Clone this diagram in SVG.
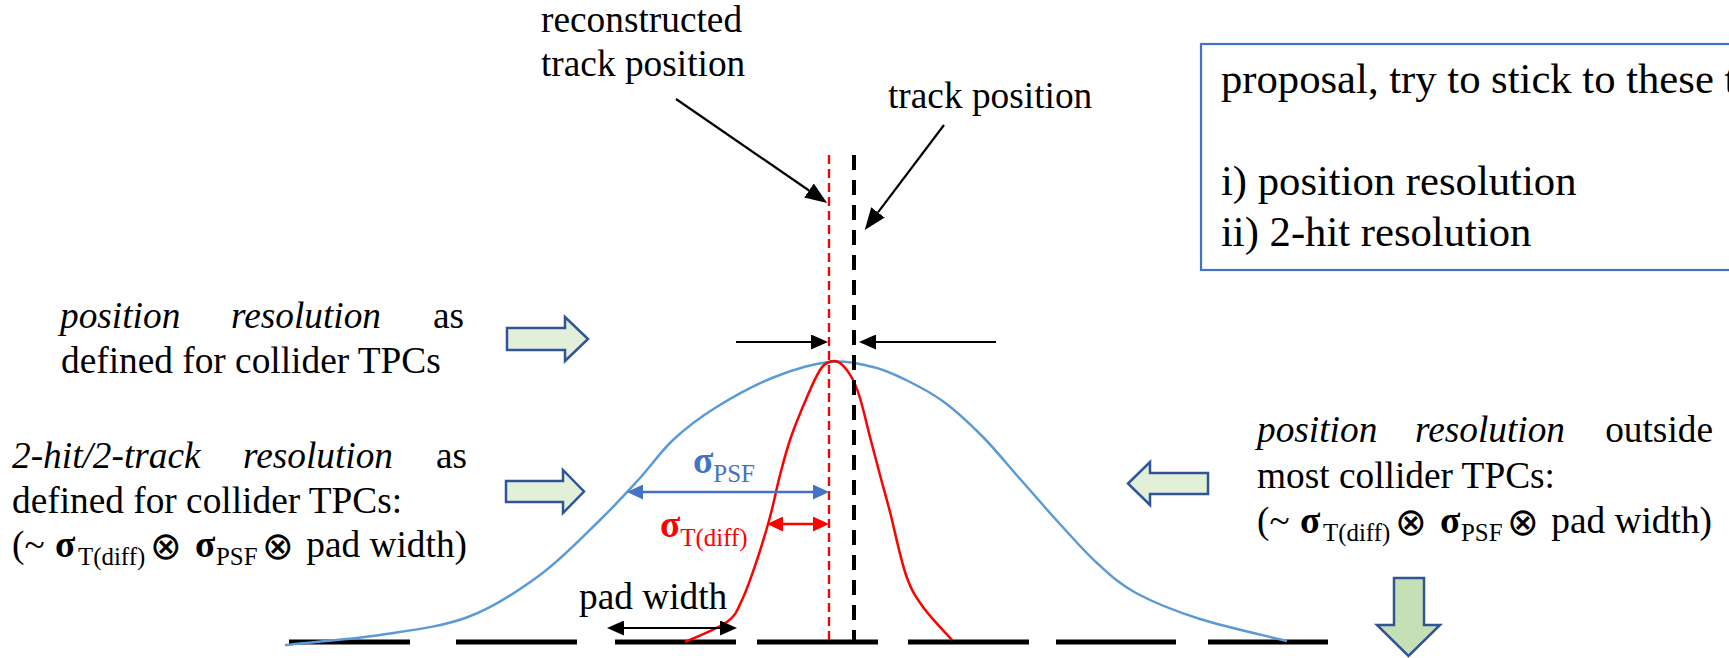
<svg xmlns="http://www.w3.org/2000/svg" width="1729" height="658" viewBox="0 0 1729 658">
<style>
.t{font-family:"Liberation Serif","Times New Roman",serif;font-size:37.33px;fill:#000}
.i{font-style:italic}
.bx{font-size:42.67px}
.sub{font-size:24.9px;font-weight:normal}
.sg{font-weight:bold}
.ot{font-family:"DejaVu Sans",sans-serif;font-size:38px}
.blk{fill:#E2F0D9;stroke:#2F5597;stroke-width:2.5;stroke-linejoin:miter}
.blkd{fill:#C5E0B4;stroke:#2F5597;stroke-width:2.5}
.ln{stroke:#000;stroke-width:2.2;fill:none}
.pad{stroke:#000;stroke-width:5}
</style>
<defs>
<marker id="hb" markerUnits="userSpaceOnUse" markerWidth="17" markerHeight="15" viewBox="0 0 17 15" refX="0" refY="7.5" orient="auto-start-reverse"><path d="M0,0 L17,7.5 L0,15 Z" fill="#000"/></marker>
<marker id="hbl" markerUnits="userSpaceOnUse" markerWidth="22" markerHeight="17" viewBox="0 0 22 17" refX="0" refY="8.5" orient="auto-start-reverse"><path d="M0,0 L22,8.5 L0,17 Z" fill="#000"/></marker>
<marker id="hblue" markerUnits="userSpaceOnUse" markerWidth="16" markerHeight="15" viewBox="0 0 16 15" refX="0" refY="7.5" orient="auto-start-reverse"><path d="M0,0 L16,7.5 L0,15 Z" fill="#4472C4"/></marker>
<marker id="hred" markerUnits="userSpaceOnUse" markerWidth="16" markerHeight="15" viewBox="0 0 16 15" refX="0" refY="7.5" orient="auto-start-reverse"><path d="M0,0 L16,7.5 L0,15 Z" fill="#FF0000"/></marker>
</defs>
<rect width="1729" height="658" fill="#fff"/>

<g id="pads">
<line class="pad" x1="289" y1="642" x2="410" y2="642"/>
<line class="pad" x1="456" y1="642" x2="577" y2="642"/>
<line class="pad" x1="615" y1="642" x2="736" y2="642"/>
<line class="pad" x1="757" y1="642" x2="878" y2="642"/>
<line class="pad" x1="908" y1="642" x2="1029" y2="642"/>
<line class="pad" x1="1056" y1="642" x2="1176" y2="642"/>
<line class="pad" x1="1208" y1="642" x2="1328" y2="642"/>
</g>

<g id="curve-psf">
<path fill="none" stroke="#5B9BD5" stroke-width="2.5" d="M285,645 C301,643 349.5,639.7 380,635 C410.5,630.3 441.3,627 468,617 C494.7,607 518,591.2 540,575 C562,558.8 583.3,536.2 600,520 C616.7,503.8 627.8,491.3 640,478 C652.2,464.7 660.5,451.7 673,440 C685.5,428.3 698.5,418.3 715,408 C731.5,397.7 753,385.7 772,378 C791,370.3 812.2,363.8 829,362 C845.8,360.2 860.2,364 873,367 C885.8,370 894.2,374.2 906,380 C917.8,385.8 931.2,392.5 944,402 C956.8,411.5 970.2,424 983,437 C995.8,450 1008.3,465.7 1021,480 C1033.7,494.3 1046.3,509.2 1059,523 C1071.7,536.8 1084.2,551.3 1097,563 C1109.8,574.7 1118.8,583.7 1136,593 C1153.2,602.3 1174.8,611 1200,619 C1225.2,627 1272.5,637.3 1287,641"/>
</g>

<g id="curve-diff">
<path fill="none" stroke="#FF0000" stroke-width="2.5" d="M685,642 C692,638.7 717.5,629 727,622 C736.5,615 737.2,609.8 742,600 C746.8,590.2 751.3,576.8 756,563 C760.7,549.2 766,531.7 770,517 C774,502.3 776.5,488.3 780,475 C783.5,461.7 786.5,450 791,437 C795.5,424 802.2,408.2 807,397 C811.8,385.8 816.3,375.8 820,370 C823.7,364.2 825.7,363.2 829,362 C832.3,360.8 836.2,360.3 840,363 C843.8,365.7 848.7,372.2 852,378 C855.3,383.8 857,388.2 860,398 C863,407.8 866.7,424.2 870,437 C873.3,449.8 876.7,462.5 880,475 C883.3,487.5 885.7,495.3 890,512 C894.3,528.7 900.5,559.2 906,575 C911.5,590.8 915.3,596.2 923,607 C930.7,617.8 947.2,634.5 952,640"/>
</g>

<g id="dashed-lines">
<line x1="829" y1="155" x2="829" y2="642" stroke="#FF0000" stroke-width="2.4" stroke-dasharray="9 5"/>
<line x1="854" y1="155" x2="854" y2="642" stroke="#000" stroke-width="4" stroke-dasharray="15 10"/>
</g>

<g id="label-reconstructed">
<text class="t" x="541" y="32">reconstructed</text>
<text class="t" x="541" y="76">track position</text>
</g>
<g id="label-track">
<text class="t" x="888" y="108">track position</text>
</g>

<g id="box-proposal">
<rect x="1201" y="44" width="560" height="226" fill="none" stroke="#4472C4" stroke-width="2.2"/>
<text class="t bx" x="1221" y="93">proposal, try to stick to these t</text>
<text class="t bx" x="1221" y="195">i) position resolution</text>
<text class="t bx" x="1221" y="246">ii) 2-hit resolution</text>
</g>

<g id="text-posres">
<text class="t i" x="60" y="328">position</text>
<text class="t i" x="231" y="328">resolution</text>
<text class="t" x="464" y="328" text-anchor="end">as</text>
<text class="t" x="61" y="373">defined for collider TPCs</text>
</g>

<g id="text-2hit">
<text class="t i" x="12" y="468">2-hit/2-track</text>
<text class="t i" x="243" y="468">resolution</text>
<text class="t" x="467" y="468" text-anchor="end">as</text>
<text class="t" x="12" y="513">defined for collider TPCs:</text>
<text class="t" y="557"><tspan x="12">(~</tspan><tspan class="sg" x="55">σ</tspan><tspan class="sub" x="78" dy="8">T(diff)</tspan><tspan class="ot" x="150" dy="-6">⊗</tspan><tspan class="sg" x="195" dy="-2">σ</tspan><tspan class="sub" x="216" dy="8">PSF</tspan><tspan class="ot" x="262" dy="-6">⊗</tspan><tspan x="467" dy="-2" text-anchor="end">pad width)</tspan></text>
</g>

<g id="text-outside">
<text class="t i" x="1257" y="442">position</text>
<text class="t i" x="1415" y="442">resolution</text>
<text class="t" x="1713" y="442" text-anchor="end">outside</text>
<text class="t" x="1257" y="488">most collider TPCs:</text>
<text class="t" y="533"><tspan x="1257">(~</tspan><tspan class="sg" x="1300">σ</tspan><tspan class="sub" x="1323" dy="8">T(diff)</tspan><tspan class="ot" x="1395" dy="-6">⊗</tspan><tspan class="sg" x="1440" dy="-2">σ</tspan><tspan class="sub" x="1461" dy="8">PSF</tspan><tspan class="ot" x="1507" dy="-6">⊗</tspan><tspan x="1712" dy="-2" text-anchor="end">pad width)</tspan></text>
</g>

<g id="label-sigma-psf">
<text class="t sg" x="693" y="473" style="fill:#4472C4">σ<tspan class="sub" dy="9">PSF</tspan></text>
</g>
<g id="label-sigma-diff">
<text class="t sg" x="660" y="537" style="fill:#FF0000">σ<tspan class="sub" dy="9">T(diff)</tspan></text>
</g>
<g id="label-padwidth">
<text class="t" x="579" y="609">pad width</text>
</g>

<g id="block-arrows">
<polygon class="blk" points="507,328 565,328 565,317 588,339 565,361 565,350 507,350"/>
<polygon class="blk" points="506,481 563,481 563,470 584,491.5 563,513 563,502 506,502"/>
<polygon class="blk" points="1208,473 1150,473 1150,462 1128,483.5 1150,505 1150,494 1208,494"/>
<polygon class="blkd" points="1394,578 1424,578 1424,625 1440,625 1408.5,656 1377,625 1394,625"/>
</g>

<g id="connectors">
<line class="ln" x1="676" y1="99" x2="809" y2="190.5" marker-end="url(#hbl)"/>
<line class="ln" x1="944" y1="125" x2="878" y2="212.4" marker-end="url(#hbl)"/>
<line class="ln" x1="736" y1="342" x2="811" y2="342" marker-end="url(#hb)"/>
<line class="ln" x1="996" y1="342" x2="876" y2="342" marker-end="url(#hb)"/>
<line x1="643" y1="492" x2="813" y2="492" stroke="#4472C4" stroke-width="2.5" marker-start="url(#hblue)" marker-end="url(#hblue)"/>
<line x1="783" y1="524" x2="813" y2="524" stroke="#FF0000" stroke-width="2.5" marker-start="url(#hred)" marker-end="url(#hred)"/>
<line class="ln" x1="624" y1="628" x2="720" y2="628" marker-start="url(#hb)" marker-end="url(#hb)"/>
</g>
</svg>
